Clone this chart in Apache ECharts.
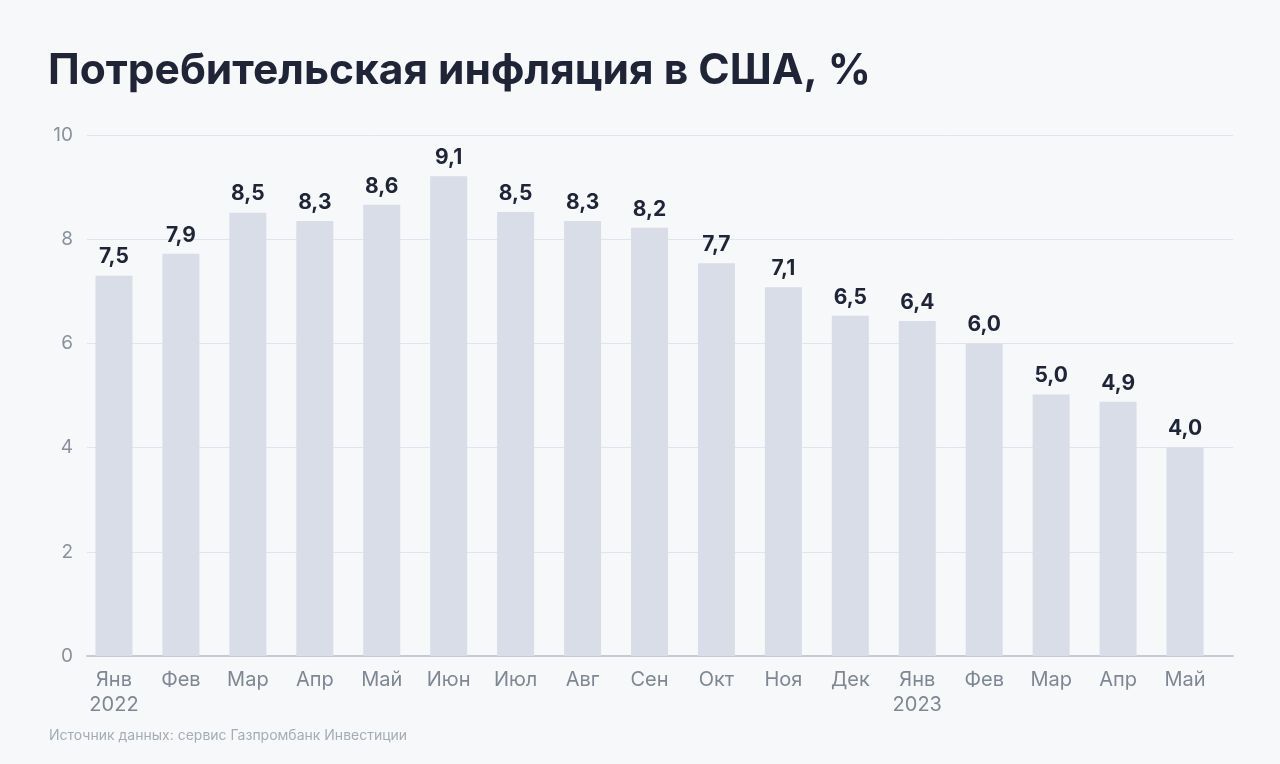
<!DOCTYPE html>
<html><head><meta charset="utf-8">
<script src="https://cdn.jsdelivr.net/npm/echarts@6/dist/echarts.min.js"></script>
<style>html,body{margin:0;padding:0;background:#f7f8fa}#c{width:1280px;height:764px}</style>
</head><body><div id="c"></div>
<script>
const categories = ['Янв\n2022','Фев','Мар','Апр','Май','Июн','Июл','Авг','Сен','Окт','Ноя','Дек','Янв\n2023','Фев','Мар','Апр','Май'];
const barValues = [7.3,7.72,8.51,8.35,8.66,9.21,8.52,8.35,8.22,7.54,7.08,6.53,6.43,6.0,5.02,4.88,4.0];
const valueLabels = ['7,5','7,9','8,5','8,3','8,6','9,1','8,5','8,3','8,2','7,7','7,1','6,5','6,4','6,0','5,0','4,9','4,0'];
const yTicks = [0,2,4,6,8,10];

const chart = echarts.init(document.getElementById('c'));
const font = 'Inter, "Noto Sans", sans-serif';
chart.setOption({
  backgroundColor: '#f7f8fa',
  animation: false,
  title: [{
    text: 'Потребительская инфляция в США, %',
    left: 43, top: 45,
    textStyle: {fontFamily: font, fontSize: 42.5, fontWeight: 'bold', color: '#1f2437'}
  },{
    text: 'Источник данных: сервис Газпромбанк Инвестиции',
    left: 44, top: 724,
    textStyle: {fontFamily: font, fontSize: 14, fontWeight: 'normal', color: '#a6abb5'}
  }],
  grid: [
    {left: 80.5, right: 61.5, top: 135, height: 521},
    {left: 87, right: 47, top: 135, height: 521}
  ],
  xAxis: [{
    type: 'category', gridIndex: 0, data: categories,
    axisLine: {show: false}, axisTick: {show: false},
    axisLabel: {fontFamily: font, fontSize: 20, color: '#7f8794', margin: 11, lineHeight: 25}
  },{
    type: 'value', gridIndex: 1, min: 0, max: 1,
    axisLine: {show: true, onZero: false, lineStyle: {color: '#c5cad3', width: 2}},
    axisTick: {show: false}, axisLabel: {show: false}, splitLine: {show: false}
  }],
  yAxis: [{
    type: 'value', gridIndex: 0, min: 0, max: 10, interval: 2,
    axisLabel: {show: false}, splitLine: {show: false}, axisLine: {show: false}, axisTick: {show: false}
  },{
    type: 'value', gridIndex: 1, min: yTicks[0], max: yTicks[yTicks.length-1], interval: 2,
    axisLine: {show: false}, axisTick: {show: false},
    axisLabel: {fontFamily: font, fontSize: 19, color: '#8a919d', margin: 14},
    splitLine: {lineStyle: {color: '#e1e4ea', width: 1}}
  }],
  series: [{
    type: 'bar', xAxisIndex: 0, yAxisIndex: 0,
    data: barValues, barWidth: 37,
    itemStyle: {color: '#d8dde8'},
    label: {
      show: true, position: 'top', distance: 8,
      formatter: p => valueLabels[p.dataIndex],
      fontFamily: font, fontSize: 21, fontWeight: 'bold', color: '#1f2437'
    }
  }]
});
</script></body></html>
